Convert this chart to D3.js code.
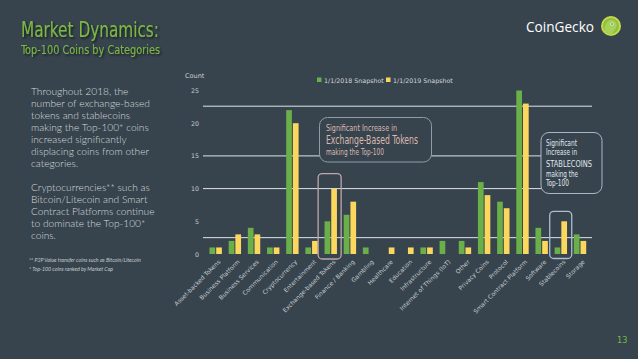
<!DOCTYPE html>
<html><head><meta charset="utf-8">
<script src="https://cdn.jsdelivr.net/npm/d3@7/dist/d3.min.js"></script>
<style>
html,body{margin:0;padding:0;background:#37444e;}
svg{display:block;}
</style></head><body>
<svg id="chart" width="638" height="359"></svg>
<script>
const categories = ["Asset-backed Tokens","Business Platform","Business Services","Communication","Cryptocurrency","Entertainment","Exchange-based Tokens","Finance / Banking","Gambling","Healthcare","Education","Infrastructure","Internet of Things (IoT)","Other","Privacy Coins","Protocol","Smart Contract Platform","Software","Stablecoins","Storage"];
const snapshot2018 = [1,2,4,1,22,1,5,6,1,0,0,1,2,2,11,8,25,4,1,3];
const snapshot2019 = [1,3,3,1,20,2,10,8,0,1,1,1,0,1,9,7,23,2,5,2];
const seriesNames = ["1/1/2018 Snapshot","1/1/2019 Snapshot"];
const yTicks = [0,5,10,15,20,25];
const gridValues = [2.5,10,15,22.6];
const leftText1 = ["Throughout 2018, the","number of exchange-based","tokens and stablecoins","making the Top-100* coins","increased significantly","displacing coins from other","categories."];
const leftText2 = ["Cryptocurrencies** such as","Bitcoin/Litecoin and Smart","Contract Platforms continue","to dominate the Top-100*","coins."];
const footnotes = ["** P2P Value transfer coins such as Bitcoin/Litecoin","*   Top-100 coins ranked by Market Cap"];

const GREEN = "#6aaf4a", YELLOW = "#fcd75e", BG = "#37444e";
const svg = d3.select("#chart");
svg.append("rect").attr("width",638).attr("height",359).attr("fill",BG);

const defs = svg.append("defs");
const f = defs.append("filter").attr("id","shadow").attr("x","-10%").attr("y","-30%").attr("width","130%").attr("height","180%");
f.append("feDropShadow").attr("dx",1.5).attr("dy",1.5).attr("stdDeviation",1).attr("flood-color","#111").attr("flood-opacity",0.7);

const narrow = "'Liberation Sans Narrow','DejaVu Sans Condensed','Roboto Condensed',Roboto,sans-serif";

// Title
svg.append("text").attr("x",21).attr("y",37).attr("font-family",narrow).attr("font-size",21).attr("font-weight",500)
  .attr("fill","#7bb843").attr("filter","url(#shadow)").attr("textLength",138).attr("lengthAdjust","spacingAndGlyphs")
  .text("Market Dynamics:");
svg.append("text").attr("x",21).attr("y",54).attr("font-family",narrow).attr("font-size",12.5).attr("font-weight",500)
  .attr("fill","#7bb843").attr("filter","url(#shadow)").attr("textLength",139).attr("lengthAdjust","spacingAndGlyphs")
  .text("Top-100 Coins by Categories");

// Logo
svg.append("text").attr("x",526).attr("y",32).attr("font-family","'Open Sans',sans-serif").attr("font-weight",500)
  .attr("font-size",14).attr("fill","#ffffff").attr("textLength",68).attr("lengthAdjust","spacingAndGlyphs").text("CoinGecko");
svg.append("circle").attr("cx",611).attr("cy",26).attr("r",10).attr("fill","#c8d84a");
svg.append("circle").attr("cx",611).attr("cy",26).attr("r",8).attr("fill","#8cc23f");
svg.append("path").attr("d","M605,33 C604,26 606,21 611,20 C616,20 618,24 616,28 C614,31 612,33 612,35 Z").attr("fill","#a6d257");
svg.append("circle").attr("cx",612).attr("cy",24).attr("r",1.6).attr("fill","#ffffff");
svg.append("circle").attr("cx",612).attr("cy",24).attr("r",0.8).attr("fill","#333");

// Left text
const lt = svg.append("g").attr("font-family","Lato,'Open Sans',sans-serif").attr("font-weight",300).attr("font-size",10.2).attr("fill","#d6dadd");
leftText1.forEach((t,i)=>lt.append("text").attr("x",31).attr("y",94.5+i*12).text(t));
leftText2.forEach((t,i)=>lt.append("text").attr("x",31).attr("y",190.5+i*12).text(t));
const fn = svg.append("g").attr("font-family","Lato,'Open Sans',sans-serif").attr("font-style","italic").attr("font-size",5.3).attr("fill","#c5cacd");
footnotes.forEach((t,i)=>fn.append("text").attr("x",29).attr("y",262+i*9).text(t));

// Scales
const x = d3.scaleBand().domain(categories).range([206,589.5]).padding(0);
const y = d3.scaleLinear().domain([0,25]).range([254,90.5]);
const cx = c => x(c)+x.bandwidth()/2;

// gridlines
svg.append("g").selectAll("line").data(gridValues).join("line")
  .attr("x1",203).attr("x2",592).attr("y1",d=>y(d)).attr("y2",d=>y(d))
  .attr("stroke","#dfe3e6").attr("stroke-width",1);

// y axis labels
const yAxis = d3.axisLeft(y).tickValues(yTicks).tickSize(0).tickPadding(0);
const yg = svg.append("g").attr("transform","translate(199,0)").call(yAxis);
yg.select(".domain").remove();
yg.selectAll("text").attr("font-family","'DejaVu Sans',sans-serif").attr("font-size",6.3).attr("fill","#c9ced2");
svg.append("text").attr("x",185).attr("y",78).attr("font-family","'DejaVu Sans',sans-serif").attr("font-size",6.5).attr("fill","#c9ced2").text("Count");

// bars
const bw = 5.7;
svg.append("g").selectAll("rect").data(categories).join("rect")
  .attr("x",c=>cx(c)-bw-0.4).attr("width",bw)
  .attr("y",(c,i)=>y(snapshot2018[i])).attr("height",(c,i)=>y(0)-y(snapshot2018[i]))
  .attr("fill",GREEN);
svg.append("g").selectAll("rect").data(categories).join("rect")
  .attr("x",c=>cx(c)+0.6).attr("width",bw)
  .attr("y",(c,i)=>y(snapshot2019[i])).attr("height",(c,i)=>y(0)-y(snapshot2019[i]))
  .attr("fill",YELLOW);

// x labels
const xAxis = d3.axisBottom(x).tickSize(0).tickPadding(0);
const xg = svg.append("g").attr("transform","translate(0,259)").call(xAxis);
xg.select(".domain").remove();
xg.selectAll("text").attr("font-family","'DejaVu Sans',sans-serif").attr("font-size",6).attr("fill","#c9ced2")
  .attr("text-anchor","end").attr("dy","0.3em").attr("transform","translate(4,2) rotate(-45)");

// legend
const lg = svg.append("g").attr("font-family","'DejaVu Sans',sans-serif").attr("font-size",6.3).attr("fill","#d4d8db");
const legX = [317,386];
const legColors = [GREEN,YELLOW];
seriesNames.forEach((s,i)=>{
  lg.append("rect").attr("x",legX[i]).attr("y",77.5).attr("width",4.5).attr("height",4.5).attr("fill",legColors[i]);
  lg.append("text").attr("x",legX[i]+7).attr("y",82.5).text(s);
});

// highlight boxes
const cEx = cx("Exchange-based Tokens");
svg.append("rect").attr("x",cEx-12.5).attr("y",y(10)-15).attr("width",23).attr("height",y(0)-y(10)+20)
  .attr("rx",4).attr("fill","none").attr("stroke","#bfa7aa").attr("stroke-width",1.3);
const cSt = cx("Stablecoins");
svg.append("rect").attr("x",cSt-11).attr("y",y(5)-10).attr("width",22).attr("height",y(0)-y(5)+14.5)
  .attr("rx",4).attr("fill","none").attr("stroke","#aebdd0").attr("stroke-width",1.3);

// annotation box 1
svg.append("rect").attr("x",319.5).attr("y",117.5).attr("width",112).attr("height",44.5).attr("rx",8)
  .attr("fill",BG).attr("stroke","#8e9da8").attr("stroke-width",1);
const a1 = svg.append("g").attr("font-family",narrow).attr("fill","#d9b9b0");
a1.append("text").attr("x",326).attr("y",131).attr("font-size",8.5).attr("textLength",71).attr("lengthAdjust","spacingAndGlyphs").text("Significant Increase in");
a1.append("text").attr("x",326).attr("y",144).attr("font-size",11.5).attr("textLength",92).attr("lengthAdjust","spacingAndGlyphs").text("Exchange-Based Tokens");
a1.append("text").attr("x",326).attr("y",155).attr("font-size",8).attr("textLength",58).attr("lengthAdjust","spacingAndGlyphs").text("making the Top-100");

// annotation box 2
svg.append("rect").attr("x",541).attr("y",132.5).attr("width",61).attr("height",61).attr("rx",8)
  .attr("fill",BG).attr("stroke","#a9b8c8").attr("stroke-width",1);
const a2 = svg.append("g").attr("font-family",narrow).attr("fill","#e1e7ee");
const a2lines = [["Significant",146,8,31],["Increase in",154.5,8,31],["STABLECOINS",166.5,9.5,46],["making the",177,8,32],["Top-100",185.5,8,23]];
a2lines.forEach(d=>a2.append("text").attr("x",546).attr("y",d[1]).attr("font-size",d[2]).attr("textLength",d[3]).attr("lengthAdjust","spacingAndGlyphs").text(d[0]));

// page number
svg.append("text").attr("x",617).attr("y",343).attr("font-family",narrow).attr("font-size",9).attr("fill","#7bb843").text("13");
</script>
</body></html>
